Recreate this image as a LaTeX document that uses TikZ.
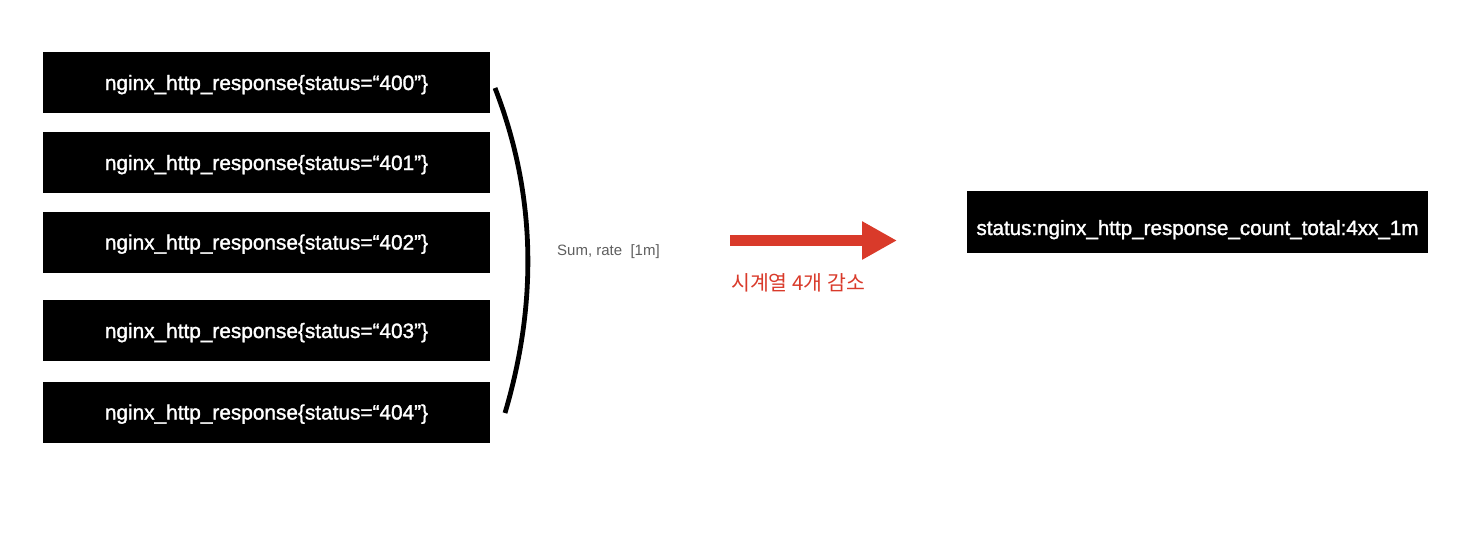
\documentclass[tikz,border=0pt]{standalone}
\usepackage{fontspec}
\setmainfont{Liberation Sans}
\newfontfamily\boxfont[FakeBold=1.5]{Liberation Sans}
\newfontfamily\krfont{Noto Sans CJK KR}
\usetikzlibrary{arrows.meta}
\definecolor{arrred}{HTML}{D93A2A}
\definecolor{lblgray}{HTML}{5E5E5E}
\newcommand{\lowtext}[2]{\raisebox{-#1}[0pt][0pt]{#2}}
\begin{document}
\begin{tikzpicture}[x=1pt,y=-1pt,
  metricbox/.style={fill=black,draw=none,text=white,inner sep=0pt,
    minimum width=447pt,minimum height=61pt,
    font=\boxfont\fontsize{20.8}{25}\selectfont},
  resultbox/.style={metricbox,minimum width=461pt,minimum height=62pt,
    font=\boxfont\fontsize{20.6}{25}\selectfont}]
\useasboundingbox (0,0) rectangle (1482,544);
\node[metricbox] (m400) at (266.5,82.5) {\lowtext{7.5pt}{nginx\_http\_response\{status=“400”\}}};
\node[metricbox] (m401) at (266.5,162.5) {\lowtext{7.5pt}{nginx\_http\_response\{status=“401”\}}};
\node[metricbox] (m402) at (266.5,242) {\lowtext{7.5pt}{nginx\_http\_response\{status=“402”\}}};
\node[metricbox] (m403) at (266.5,330.5) {\lowtext{7.5pt}{nginx\_http\_response\{status=“403”\}}};
\node[metricbox] (m404) at (266.5,412) {\lowtext{7.5pt}{nginx\_http\_response\{status=“404”\}}};
\node[resultbox] (res) at (1197.5,222) {\lowtext{13pt}{status:nginx\_http\_response\_count\_total:4xx\_1m}};
\coordinate (bt) at (495,88);
\coordinate (bb) at (505,413);
\draw[line width=4.8pt] (bt) .. controls (537,196) and (537,305) .. (bb);
\node[text=lblgray,font=\fontsize{15}{18}\selectfont,anchor=west,inner sep=0pt] (lbl) at (557,252) {Sum, rate\ \ [1m]};
\coordinate (as) at (730,240.5);
\coordinate (ae) at (897,240.5);
\draw[arrred,line width=11pt,-{Triangle[length=35pt,width=36pt]}] (as) -- (ae);
\node[text=arrred,font=\krfont\fontsize{20.5}{24}\selectfont,anchor=west,inner sep=0pt] (dec) at (731,283) {시계열 4개 감소};
\end{tikzpicture}
\end{document}
